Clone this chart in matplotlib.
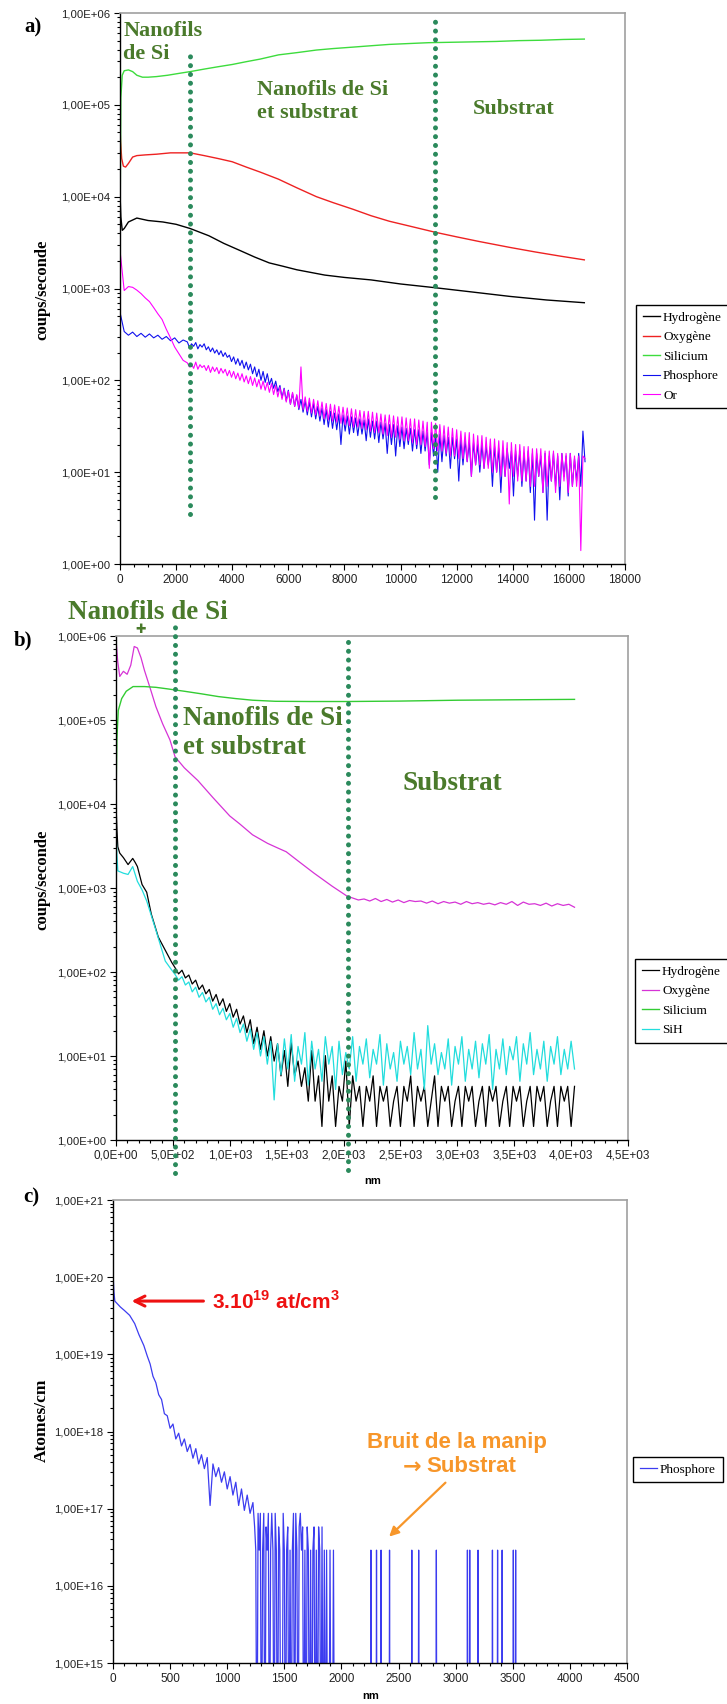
import matplotlib
matplotlib.use("Agg")
import matplotlib.pyplot as plt
import numpy as np
from matplotlib.ticker import FuncFormatter, FixedLocator, NullFormatter

plt.rcParams['font.family'] = ['Liberation Sans', 'DejaVu Sans']
plt.rcParams['mathtext.fontset'] = 'custom'
plt.rcParams['mathtext.rm'] = 'Liberation Sans'
plt.rcParams['mathtext.bf'] = 'Liberation Sans:bold'

SERIF = ['Liberation Serif', 'DejaVu Serif']
W, H = 727, 1704

# ---------------- panel a : coups/seconde vs depth ----------------
a_h_x = [0, 30, 80, 150, 300, 600, 1000, 1530, 2000, 2500, 3170, 3700, 4330, 4800, 5320,
         5800, 6300, 7300, 8000, 8950, 10000, 11230, 12500, 13900, 15200, 16550]
a_h_y = [1.1e4, 6e3, 4.3e3, 4.5e3, 5.3e3, 5.85e3, 5.5e3, 5.3e3, 5.0e3, 4.5e3, 3.75e3, 3.1e3,
         2.55e3, 2.2e3, 1.9e3, 1.75e3, 1.6e3, 1.4e3, 1.32e3, 1.24e3, 1.12e3, 1.02e3, 9.2e2,
         8.2e2, 7.5e2, 7.0e2]

a_o_x = [0, 20, 60, 120, 200, 300, 450, 600, 900, 1300, 1800, 2500, 3000, 3500, 4000, 4500,
         5000, 5650, 6300, 7000, 7600, 8300, 8950, 9600, 10300, 11230, 12000, 12800, 13900,
         14800, 15700, 16550]
a_o_y = [6e4, 4e4, 2.6e4, 2.15e4, 2.1e4, 2.3e4, 2.7e4, 2.8e4, 2.85e4, 2.9e4, 3.0e4, 3.0e4,
         2.8e4, 2.6e4, 2.4e4, 2.1e4, 1.85e4, 1.55e4, 1.25e4, 1.0e4, 8.6e3, 7.3e3, 6.2e3,
         5.4e3, 4.8e3, 4.1e3, 3.65e3, 3.25e3, 2.8e3, 2.5e3, 2.25e3, 2.05e3]

a_si_x = [0, 30, 80, 150, 300, 450, 600, 800, 1000, 1300, 1700, 2100, 2500, 3000, 3500, 4000,
          4500, 5000, 5650, 6300, 7000, 7600, 8300, 8950, 9600, 10300, 11000, 11800, 12600,
          13400, 14200, 15000, 15800, 16550]
a_si_y = [3.3e3, 1.2e5, 2.1e5, 2.35e5, 2.4e5, 2.3e5, 2.1e5, 2.0e5, 2.0e5, 2.03e5, 2.1e5,
          2.2e5, 2.3e5, 2.45e5, 2.6e5, 2.75e5, 2.95e5, 3.15e5, 3.5e5, 3.7e5, 3.95e5, 4.1e5,
          4.25e5, 4.4e5, 4.55e5, 4.65e5, 4.75e5, 4.8e5, 4.85e5, 4.9e5, 5.0e5, 5.05e5, 5.15e5,
          5.2e5]

# Phosphore and Or : readings every 150 nm up to 2250 nm, then every 75 nm from 2400 nm
a_head_step = 150
a_dense_start, a_dense_step = 2400, 75
a_p_head = [550, 340, 310, 335, 300, 325, 295, 320, 290, 310, 280, 300, 270, 290, 255, 275]
a_p_dense = [262, 228, 250, 235, 258, 220, 245, 230, 250, 215,
             232, 205, 225, 198, 215, 190, 210, 182, 200, 178,
             188, 160, 180, 150, 172, 145, 165, 135, 158, 130,
             150, 118, 140, 110, 132, 100, 125, 95, 118, 90,
             105, 82, 98, 75, 88, 65, 82, 60, 78, 55,
             72, 52, 68, 48, 62, 45, 60, 42, 58, 40,
             56, 38, 52, 36, 50, 33, 48, 31, 46, 30,
             44, 29, 43, 20, 42, 28, 41, 26, 40, 27,
             39, 25, 38, 26, 37, 22, 38, 24, 36, 23,
             36, 21, 35, 23, 34, 16, 33, 20, 33, 15,
             32, 19, 31, 18, 30, 20, 30, 17, 29, 18,
             29, 16, 28, 17, 27, 12, 27, 15, 26, 10,
             26, 13, 25, 15, 24, 11, 24, 14, 23, 8,
             23, 12, 22, 13, 21, 9, 21, 12, 20, 10,
             20, 11, 19, 12, 19, 7, 19, 10, 18, 6,
             18, 9, 18, 11, 17, 5.5, 17, 9, 17, 7,
             16, 8, 17, 6, 16, 3, 16, 9, 15, 6,
             16, 3, 15, 8, 16, 7, 15, 5, 16, 9,
             15, 5.5, 16, 7, 14, 8, 16, 7, 28, 13]
a_or_head = [2600, 950, 1050, 1030, 960, 880, 790, 720, 620, 530, 460, 360, 290, 230, 195, 165]
a_or_dense = [155, 140, 150, 135, 158, 132, 148, 138, 145, 128,
              145, 122, 140, 125, 138, 118, 135, 120, 132, 112,
              128, 108, 125, 104, 120, 100, 118, 96, 112, 92,
              110, 88, 106, 85, 102, 80, 98, 78, 95, 74,
              92, 70, 88, 66, 84, 62, 80, 58, 76, 55,
              74, 52, 70, 50, 140, 48, 66, 46, 64, 44,
              62, 42, 60, 41, 58, 38, 56, 37, 55, 36,
              54, 35, 52, 34, 51, 33, 50, 32, 49, 31,
              48, 31, 47, 30, 46, 29, 46, 28, 45, 27,
              44, 27, 43, 26, 42, 25, 42, 24, 41, 24,
              40, 23, 40, 22, 39, 22, 38, 21, 38, 20,
              37, 20, 36, 19, 35, 11, 35, 18, 34, 17,
              33, 17, 32, 16, 31, 15, 30, 15, 29, 14,
              28, 14, 27, 13, 27, 9, 26, 12, 25, 12,
              25, 11, 24, 11, 23, 10, 23, 10, 22, 9,
              22, 9, 21, 4.5, 21, 9, 20, 8, 20, 8,
              19, 8, 19, 7, 18, 7, 18, 9, 18, 6,
              17, 7, 17, 8, 17, 6, 16, 7, 16, 8,
              16, 6, 16, 7, 15, 7, 15, 1.4, 15, 14]
a_bounds = [2500, 11230]
a_bounds_top = [4.0e5, 1.0e6]
a_bounds_bot = [3.5, 5.4]

# ---------------- panel b ----------------
b_h_head_x = [0, 8, 16, 33, 65, 106, 130, 147, 170, 188, 229, 270, 310, 372, 454, 490]
b_h_head_y = [1.0e4, 5.0e3, 3.1e3, 2.6e3, 2.3e3, 1.9e3, 2.1e3, 2.25e3, 2.0e3, 1.8e3, 1.1e3,
              8.9e2, 4.9e2, 2.6e2, 1.6e2, 1.3e2]
b_sih_head_x = [0, 8, 16, 65, 106, 147, 188, 229, 270, 352, 433, 480]
b_sih_head_y = [4.9e3, 2.5e3, 1.6e3, 1.5e3, 1.45e3, 1.8e3, 1.2e3, 9.5e2, 7.0e2, 3.1e2, 1.35e2,
                1.1e2]
# readings every 30 nm from 520 nm
b_noise_start, b_noise_step = 520, 30
b_h_noise = [112, 95, 105, 85, 92, 72, 80, 62, 70, 55,
             62, 45, 54, 40, 48, 34, 42, 29, 36, 24,
             30, 19, 27, 14, 22, 12, 20, 10, 17, 8.7,
             14, 5.8, 11.6, 4.35, 14.5, 5.8, 8.7, 4.35, 7.25, 2.9,
             11.6, 2.9, 5.8, 1.45, 10.1, 2.9, 5.8, 1.45, 4.35, 2.9,
             8.7, 1.45, 5.8, 2.9, 4.35, 1.45, 4.35, 2.9, 5.8, 1.45,
             4.35, 2.9, 4.35, 1.45, 2.9, 4.35, 1.45, 4.35, 2.9, 5.8,
             1.45, 4.35, 2.9, 4.35, 1.45, 2.9, 5.8, 1.45, 4.35, 2.9,
             4.35, 1.45, 2.9, 4.35, 1.45, 4.35, 2.9, 4.35, 1.45, 2.9,
             4.35, 1.45, 4.35, 2.9, 4.35, 1.45, 2.9, 4.35, 1.45, 4.35,
             2.9, 4.35, 1.45, 2.9, 4.35, 1.45, 4.35, 2.9, 4.35, 1.45,
             2.9, 4.35, 1.45, 4.35, 2.9, 4.35, 1.45, 4.35]
b_sih_noise = [93, 80, 88, 70, 76, 58, 66, 50, 57, 44,
               50, 36, 42, 31, 37, 27, 32, 22, 28, 19,
               24, 15, 21, 12, 19, 10, 17, 8, 15, 3,
               14, 6, 16, 7, 18, 5, 13, 8, 19, 4.5,
               15, 7, 12, 5, 17, 8, 13, 4, 15, 6,
               11, 7, 17, 5, 13, 8, 16, 5.5, 12, 8,
               18, 4.5, 14, 7, 11, 5, 15, 8, 13, 6,
               19, 7, 12, 4, 23, 8, 14, 6, 11, 7,
               16, 4.5, 13, 8, 17, 5, 12, 7, 15, 5.5,
               14, 8, 18, 4, 12, 7, 16, 6, 13, 9,
               17, 5, 14, 8, 19, 6, 12, 7, 15, 5,
               13, 8, 17, 6, 12, 7, 15, 7]

b_o_x = [0, 15, 33, 65, 98, 130, 160, 188, 220, 250, 300, 350, 410, 474, 519, 600, 720, 850,
         1000, 1087, 1200, 1332, 1420, 1496, 1600, 1741, 1900, 2031]
b_o_y = [9e5, 5e5, 3.3e5, 3.8e5, 3.5e5, 4.5e5, 7.5e5, 7.2e5, 5.5e5, 3.9e5, 2.4e5, 1.45e5, 9e4,
         5.8e4, 3.65e4, 2.7e4, 1.9e4, 1.2e4, 7.2e3, 5.8e3, 4.3e3, 3.4e3, 3.0e3, 2.7e3, 2.1e3,
         1.5e3, 1.05e3, 8e2]
b_o_tail_start, b_o_tail_step = 2080, 50
b_o_tail = [760, 720, 740, 700, 750, 690, 730, 680, 720, 670,
            710, 690, 700, 660, 700, 650, 690, 660, 680, 640,
            690, 650, 670, 640, 660, 630, 670, 640, 690, 620,
            680, 640, 650, 620, 660, 610, 650, 620, 640, 590]

b_si_x = [0, 8, 20, 50, 90, 150, 250, 350, 450, 600, 750, 900, 1050, 1200, 1400, 1700, 2036,
          2500, 3000, 3500, 4030]
b_si_y = [1.2e4, 6e4, 1.3e5, 1.8e5, 2.2e5, 2.5e5, 2.5e5, 2.45e5, 2.35e5, 2.2e5, 2.05e5, 1.9e5,
          1.8e5, 1.72e5, 1.67e5, 1.66e5, 1.66e5, 1.68e5, 1.72e5, 1.74e5, 1.76e5]
b_bounds = [519, 2036]
b_bounds_top = [1.5e6, 1.0e6]
b_bounds_bot = [0.41, 0.44]

# ---------------- panel c ----------------
c_head_x = [0, 8, 16, 40, 65, 100, 146, 190, 227, 270]
c_head_y = [1.14e20, 6.5e19, 4.9e19, 4.5e19, 4.1e19, 3.7e19, 3.2e19, 2.5e19, 1.8e19, 1.3e19]
c_mid_start, c_mid_step = 300, 25
c_mid_y = [9.5e18, 7.5e18, 5.2e18, 4.3e18, 3.0e18, 2.6e18, 1.7e18, 1.6e18, 1.1e18, 1.25e18,
           8.0e17, 9.5e17, 6.5e17, 8.0e17, 5.5e17, 6.8e17, 4.5e17, 6.0e17, 3.8e17, 5.0e17,
           3.3e17, 4.6e17, 1.1e17, 3.8e17, 2.6e17, 3.4e17, 2.2e17, 3.0e17, 1.8e17, 2.6e17,
           1.5e17, 2.2e17, 1.1e17, 1.8e17, 9.5e16, 1.5e17, 8.7e16, 1.2e17]
# counts (1 count = 2.9e16 at/cm3) every 10 nm from 1240 nm
c_count = 2.9e16
c_floor_start, c_floor_step = 1240, 10
c_floor = [2, 1, 0, 3, 1, 3, 0, 1, 3, 0,
           2, 1, 3, 0, 1, 3, 1, 0, 3, 1,
           0, 2, 1, 0, 0, 3, 1, 0, 1, 2,
           0, 1, 0, 1, 3, 0, 3, 1, 0, 2,
           3, 1, 2, 0, 1, 0, 2, 1, 0, 1,
           0, 1, 2, 0, 1, 0, 2, 1, 0, 2,
           0, 1, 0, 1, 0, 0, 1, 0, 0, 1,
           0]
c_spikes = [2258, 2307, 2347, 2421, 2616, 2676, 2831, 3103, 3123, 3196, 3322, 3367, 3407,
            3505, 3525]

# ---------------- build series ----------------
a_px = [a_head_step * i for i in range(len(a_p_head))] + \
       [a_dense_start + a_dense_step * i for i in range(len(a_p_dense))]
a_py = a_p_head + a_p_dense
a_orx = [a_head_step * i for i in range(len(a_or_head))] + \
        [a_dense_start + a_dense_step * i for i in range(len(a_or_dense))]
a_ory = a_or_head + a_or_dense

b_h_x = b_h_head_x + [b_noise_start + b_noise_step * i for i in range(len(b_h_noise))]
b_h_y = b_h_head_y + b_h_noise
b_sih_x = b_sih_head_x + [b_noise_start + b_noise_step * i for i in range(len(b_sih_noise))]
b_sih_y = b_sih_head_y + b_sih_noise
b_ox = b_o_x + [b_o_tail_start + b_o_tail_step * i for i in range(len(b_o_tail))]
b_oy = b_o_y + b_o_tail

c_x = list(c_head_x) + [c_mid_start + c_mid_step * i for i in range(len(c_mid_y))]
c_y = list(c_head_y) + list(c_mid_y)
c_x += [c_floor_start + c_floor_step * i for i in range(len(c_floor))]
c_y += [n * c_count for n in c_floor]
for s in c_spikes:
    c_x += [s - 4, s, s + 4]
    c_y += [0, c_count, 0]
c_y = np.array(c_y)
c_y = np.where(c_y > 0, c_y, 1e13)   # zero counts drop below the axis

# ---------------- figure ----------------
fig = plt.figure(figsize=(W / 100, H / 100), dpi=100)


def px_rect(l, r, t, b):
    return [l / W, 1 - b / H, (r - l) / W, (b - t) / H]


def yfmt(v, p):
    return f"1,00E+{int(round(np.log10(v))):02d}"


def sci_fmt(v, p):
    if abs(v) < 1e-9:
        return "0,0E+00"
    e = int(np.floor(np.log10(v) + 1e-9))
    return f"{v / 10 ** e:.1f}".replace('.', ',') + f"E+{e:02d}"


def int_fmt(v, p):
    return f"{int(round(v))}"


def style(ax, xmax, xmaj, xmin, ylo, yhi, xformat):
    ax.set_yscale('log')
    ax.set_ylim(10.0 ** ylo, 10.0 ** yhi)
    ax.set_xlim(0, xmax)
    ax.xaxis.set_major_locator(FixedLocator(np.arange(0, xmax + 1, xmaj)))
    ax.xaxis.set_minor_locator(FixedLocator(np.arange(0, xmax + 1, xmin)))
    ax.xaxis.set_major_formatter(FuncFormatter(xformat))
    decades = np.arange(ylo, yhi + 1)
    ax.yaxis.set_major_locator(FixedLocator(10.0 ** decades))
    minors = [m * 10.0 ** d for d in decades[:-1] for m in range(2, 10)]
    ax.yaxis.set_minor_locator(FixedLocator(minors))
    ax.yaxis.set_minor_formatter(NullFormatter())
    ax.yaxis.set_major_formatter(FuncFormatter(yfmt))
    for s in ('top', 'right'):
        ax.spines[s].set_color('#a0a0a0')
        ax.spines[s].set_linewidth(1.2)
    for s in ('left', 'bottom'):
        ax.spines[s].set_linewidth(1.0)
    ax.tick_params(which='both', direction='out', labelcolor='#222222', width=0.8)
    ax.tick_params(axis='y', labelsize=8.2)
    ax.tick_params(axis='x', labelsize=8.5)
    ax.tick_params(which='major', length=4, pad=3)
    ax.tick_params(which='minor', length=2.5)


def legend(ax, left, top):
    leg = ax.legend(loc='upper left', bbox_to_anchor=(left / W, 1 - top / H),
                    bbox_transform=fig.transFigure, borderaxespad=0,
                    prop={'family': SERIF, 'size': 9.5}, fancybox=False, edgecolor='black',
                    framealpha=1, handlelength=1.3, handletextpad=0.25, borderpad=0.5,
                    labelspacing=0.55)
    leg.get_frame().set_linewidth(1.0)


DOT = '#2b8a5c'
GTXT = '#4a7a2b'
ORANGE = '#f7962a'
dot_kw = dict(color=DOT, lw=3.6, linestyle=(0, (0.01, 1.75)), dash_capstyle='round',
              clip_on=False, zorder=5)
big = dict(family=SERIF, weight='bold', color=GTXT)

# ---- a ----
ax = fig.add_axes(px_rect(120, 625, 13, 564))
ax.plot(a_h_x, a_h_y, color='black', lw=1.0, label='Hydrogène')
ax.plot(a_o_x, a_o_y, color='#ee2222', lw=1.0, label='Oxygène')
ax.plot(a_si_x, a_si_y, color='#3ddc3d', lw=1.0, label='Silicium')
ax.plot(a_px, a_py, color='#1010ee', lw=0.8, label='Phosphore')
ax.plot(a_orx, a_ory, color='#ff00ff', lw=0.8, label='Or')
style(ax, 18000, 2000, 500, 0, 6, int_fmt)
for x0, yt, yb in zip(a_bounds, a_bounds_top, a_bounds_bot):
    ax.plot([x0, x0], [yb, yt], **dot_kw)
ax.text(115, 8.2e5, "Nanofils\nde Si", fontsize=16, va='top', ha='left', **big)
ax.text(4870, 1.85e5, "Nanofils de Si\net substrat", fontsize=16, va='top', ha='left', **big)
ax.text(12580, 9.0e4, "Substrat", fontsize=16, va='center', ha='left', **big)
legend(ax, 636, 305)

# ---- b ----
ax = fig.add_axes(px_rect(116, 628, 636, 1140))
ax.plot(b_h_x, b_h_y, color='black', lw=0.9, label='Hydrogène')
ax.plot(b_ox, b_oy, color='#d633d6', lw=0.9, label='Oxygène')
ax.plot(b_si_x, b_si_y, color='#33cc33', lw=1.0, label='Silicium')
ax.plot(b_sih_x, b_sih_y, color='#22dddd', lw=0.9, label='SiH')
style(ax, 4500, 500, 100, 0, 6, sci_fmt)
for x0, yt, yb in zip(b_bounds, b_bounds_top, b_bounds_bot):
    ax.plot([x0, x0], [yb, yt], **dot_kw)
ax.text(-425, 1.9e6, "Nanofils de Si", fontsize=19.5, va='center', ha='left', clip_on=False, **big)
ax.text(220, 1.18e6, "\u271A", fontsize=9, color=GTXT, family=['DejaVu Sans'],
        va='center', ha='center', clip_on=False)
ax.text(589, 1.45e5, "Nanofils de Si\net substrat", fontsize=19.5, va='top', ha='left', **big)
ax.text(2518, 1.75e4, "Substrat", fontsize=19.5, va='center', ha='left', **big)
legend(ax, 635, 959)

# ---- c ----
ax = fig.add_axes(px_rect(113, 627, 1200, 1663))
ax.plot(c_x, c_y, color='#3c3cf0', lw=0.9, label='Phosphore')
style(ax, 4500, 500, 100, 15, 21, int_fmt)
ax.annotate("", xy=(138, 4.9e19), xytext=(816, 4.9e19),
            arrowprops=dict(arrowstyle='->', color='#ee1111', lw=2.2, mutation_scale=18))
ax.text(869, 4.9e19, r"3.10$^{\mathbf{19}}$ at/cm$^{\mathbf{3}}$", fontsize=15, fontweight='bold',
        color='#ee1111', va='center', ha='left')
ax.text(3007, 7.3e17, "Bruit de la manip", fontsize=16, fontweight='bold',
        color=ORANGE, va='center', ha='center')
ax.text(2700, 3.47e17, "\u2192", fontsize=16, fontweight='bold', color=ORANGE,
        family=['DejaVu Sans'], va='center', ha='right')
ax.text(2740, 3.47e17, "Substrat", fontsize=16, fontweight='bold', color=ORANGE,
        va='center', ha='left')
ax.annotate("", xy=(2400, 4.1e16), xytext=(2928, 2.3e17),
            arrowprops=dict(arrowstyle='-|>', color=ORANGE, lw=1.6, mutation_scale=14))
legend(ax, 633, 1457)

# ---- labels ----
fig.text(33 / W, 1 - 27 / H, "a)", fontsize=15, fontweight='bold', family=SERIF, ha='center', va='center')
fig.text(23 / W, 1 - 640 / H, "b)", fontsize=15, fontweight='bold', family=SERIF, ha='center', va='center')
fig.text(31 / W, 1 - 1197 / H, "c)", fontsize=15, fontweight='bold', family=SERIF, ha='center', va='center')
fig.text(42 / W, 1 - 290 / H, "coups/seconde", rotation=90, fontsize=12, fontweight='bold',
         family=SERIF, ha='center', va='center')
fig.text(42 / W, 1 - 880 / H, "coups/seconde", rotation=90, fontsize=12, fontweight='bold',
         family=SERIF, ha='center', va='center')
fig.text(42 / W, 1 - 1420 / H, "Atomes/cm", rotation=90, fontsize=12.5, fontweight='bold',
         family=SERIF, ha='center', va='center')
fig.text(373 / W, 1 - 1181 / H, "nm", fontsize=8, fontweight='bold', ha='center', va='center')
fig.text(371 / W, 1 - 1696 / H, "nm", fontsize=8, fontweight='bold', ha='center', va='center')

fig.savefig("out.png", dpi=100)
